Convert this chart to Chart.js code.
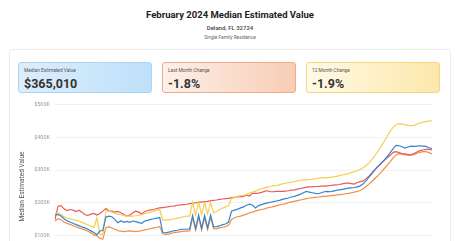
<!DOCTYPE html>
<html lang="en">
<head>
    <meta charset="UTF-8">
    <title>February 2024 Median Estimated Value</title>
    <script src="https://cdn.jsdelivr.net/npm/chart.js"></script>
    <style>
        body { margin: 0; width: 460px; height: 241px; overflow: hidden; background: #fff; font-family: Roboto, Arial, sans-serif; color: #333; position: relative; }
        .head { position: absolute; left: 0; width: 460px; text-align: center; }
        .title { top: 9px; font-size: 9.5px; font-weight: 700; color: #222; }
        .place { top: 23.5px; font-size: 6px; font-weight: 500; color: #444; }
        .kind { top: 35px; font-size: 4.8px; color: #666; }
        .card { position: absolute; left: 9px; top: 49px; width: 440px; height: 220px; border: 1px solid #ececec; border-radius: 3px; box-shadow: 0 0 2px rgba(0,0,0,0.04); }
        .stat { position: absolute; top: 62px; width: 134px; height: 31px; border-radius: 3px; box-sizing: border-box; padding: 5px 0 0 5px; }
        .stat .lbl { font-size: 4.8px; color: #555; line-height: 6px; }
        .stat .val { font-size: 12.5px; font-weight: 700; color: #333; line-height: 14px; margin-top: 3px; }
        #s1 { left: 18px; background: linear-gradient(90deg, #dceefd, #bee0fa); border: 1px solid #aad3f4; }
        #s2 { left: 162px; background: linear-gradient(90deg, #fdf0e8, #f8cdb5); border: 1px solid #efab8a; }
        #s3 { left: 306px; background: linear-gradient(90deg, #fff9e6, #fde8ab); border: 1px solid #f5d77c; }
        #chartBox { position: absolute; left: 10px; top: 96px; width: 422px; height: 181px; }
    </style>
</head>
<body>
    <div class="head title">February 2024 Median Estimated Value</div>
    <div class="head place">Deland, FL 32724</div>
    <div class="head kind">Single Family Residence</div>
    <div class="card"></div>
    <div class="stat" id="s1"><div class="lbl">Median Estimated Value</div><div class="val">$365,010</div></div>
    <div class="stat" id="s2"><div class="lbl">Last Month Change</div><div class="val">-1.8%</div></div>
    <div class="stat" id="s3"><div class="lbl">12 Month Change</div><div class="val">-1.9%</div></div>
    <div id="chartBox"><canvas id="valueChart"></canvas></div>

    <script>
        // values in $K, one per period (oldest first)
        const medianValues = [
            163, 165, 160, 152, 146, 142, 138, 134, 131, 127, 124, 120, 115, 110, 103, 115, 116, 157, 160, 158,
            150, 140, 146, 141, 144, 141, 145, 143, 140, 138, 145, 147, 150, 152, 154, 156, 110, 109, 111, 114,
            116, 117, 120, 120, 120, 121, 162, 122, 163, 123, 162, 124, 163, 127, 128, 130, 134, 136, 142, 175,
            178, 181, 185, 188, 193, 196, 193, 185, 192, 195, 198, 200, 202, 204, 206, 208, 211, 213, 215, 218,
            220, 223, 226, 231, 235, 233, 231, 229, 228, 231, 234, 235, 234, 236, 238, 240, 241, 243, 245, 246,
            247, 249, 252, 258, 268, 279, 290, 301, 312, 321, 330, 341, 352, 365, 375, 374, 371, 367, 370, 373,
            372, 373, 374, 373, 372, 368, 365
        ];
        const upperValues = [
            168, 170, 165, 158, 155, 152, 149, 147, 145, 141, 137, 133, 129, 125, 155, 105, 104, 175, 175, 172,
            169, 166, 164, 162, 160, 160, 160, 161, 162, 164, 167, 170, 172, 175, 178, 180, 148, 148, 149, 150,
            152, 154, 156, 158, 160, 160, 202, 162, 202, 164, 202, 166, 202, 170, 174, 180, 184, 188, 192, 214,
            216, 220, 222, 223, 226, 230, 233, 236, 240, 243, 246, 249, 250, 252, 253, 255, 258, 260, 262, 263,
            265, 267, 269, 270, 270, 271, 272, 274, 275, 276, 276, 277, 278, 279, 281, 283, 285, 287, 289, 292,
            295, 298, 302, 307, 314, 322, 333, 345, 358, 372, 387, 403, 418, 430, 438, 441, 440, 438, 436, 435,
            436, 440, 443, 446, 448, 449, 450
        ];
        const listValues = [
            150, 190, 192, 182, 177, 180, 178, 174, 178, 172, 164, 162, 166, 168, 163, 168, 175, 183, 176, 175,
            172, 174, 170, 165, 160, 163, 170, 175, 172, 166, 174, 177, 179, 180, 183, 185, 186, 187, 189, 190,
            191, 193, 194, 195, 196, 198, 199, 200, 202, 203, 204, 205, 207, 208, 209, 211, 212, 213, 214, 216,
            217, 218, 219, 220, 224, 221, 229, 229, 230, 232, 235, 237, 234, 234, 235, 235, 235, 236, 237, 239,
            240, 242, 244, 246, 248, 249, 249, 250, 250, 251, 251, 252, 253, 254, 255, 256, 258, 260, 260, 259,
            257, 262, 265, 267, 274, 282, 292, 302, 311, 320, 329, 337, 344, 354, 356, 353, 350, 349, 347, 347,
            350, 355, 359, 361, 363, 363, 361
        ];
        const lowerValues = [
            145, 152, 149, 142, 138, 135, 131, 127, 124, 121, 118, 114, 109, 103, 100, 92, 90, 125, 128, 124,
            120, 116, 114, 113, 114, 115, 114, 113, 114, 116, 118, 120, 122, 124, 126, 128, 106, 104, 105, 108,
            110, 111, 113, 114, 114, 115, 155, 117, 156, 118, 155, 119, 156, 121, 122, 124, 126, 128, 132, 150,
            155, 158, 160, 163, 166, 170, 172, 175, 178, 180, 182, 185, 187, 189, 191, 194, 196, 198, 201, 203,
            205, 207, 209, 211, 213, 215, 216, 217, 218, 219, 220, 221, 222, 223, 224, 225, 226, 228, 229, 231,
            233, 235, 238, 243, 250, 258, 266, 275, 284, 294, 304, 314, 325, 337, 346, 350, 348, 346, 345, 345,
            347, 351, 354, 356, 356, 353, 349
        ];
        const yTicks = [0, 100, 200, 300, 400, 500];

        // one label per period, ending Feb 2024
        const monthNames = ['Jan','Feb','Mar','Apr','May','Jun','Jul','Aug','Sep','Oct','Nov','Dec'];
        const periodLabels = [];
        for (let i = 0; i < medianValues.length; i++) {
            const back = medianValues.length - 1 - i;
            const m = ((1 - back) % 12 + 12) % 12;
            periodLabels.push(monthNames[m] + ' ' + (2024 + Math.floor((1 - back) / 12)));
        }

        function line(label, color, data) {
            return { label: label, data: data, borderColor: color, backgroundColor: color, borderWidth: 1.2, pointRadius: 0, tension: 0, fill: false };
        }

        const ctx = document.getElementById('valueChart').getContext('2d');
        new Chart(ctx, {
            type: 'line',
            data: {
                labels: periodLabels,
                datasets: [
                    line('Median Estimated Value', '#3584cc', medianValues),
                    line('Upper Estimate', '#f7cd52', upperValues),
                    line('Median List Price', '#e85a58', listValues),
                    line('Lower Estimate', '#f09048', lowerValues)
                ]
            },
            options: {
                responsive: true,
                maintainAspectRatio: false,
                animation: false,
                layout: { padding: { top: 0, right: 0, bottom: 0, left: 8 } },
                plugins: { legend: { display: false }, tooltip: { enabled: false } },
                scales: {
                    x: { display: false },
                    y: {
                        min: 0, max: 500,
                        afterBuildTicks: axis => { axis.ticks = yTicks.map(v => ({ value: v })); },
                        afterFit: axis => { axis.width = 37; },
                        border: { display: false },
                        grid: { color: '#f1f1f1', lineWidth: 1, drawTicks: false },
                        ticks: { color: '#9a9a9a', font: { family: 'Roboto', size: 5.5 }, padding: 5, callback: v => '$' + v + 'K' },
                        title: { display: true, text: 'Median Estimated Value', color: '#555', font: { family: 'Roboto', size: 6.5 }, padding: 0 }
                    }
                }
            }
        });
    </script>
</body>
</html>
